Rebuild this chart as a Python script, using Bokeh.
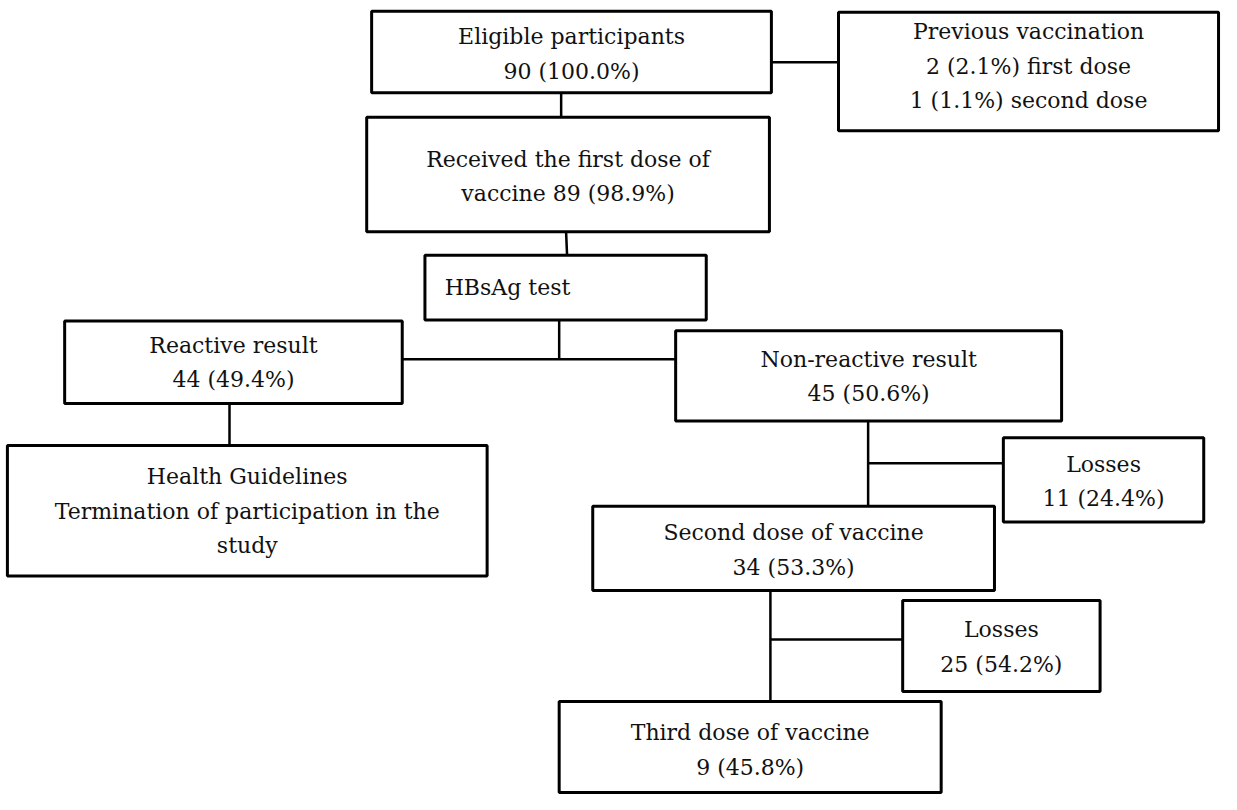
from bokeh.plotting import figure
from bokeh.models import Range1d, ColumnDataSource
from bokeh.core.properties import value
from bokeh.embed import file_html
from bokeh.resources import INLINE

# ---- data ----
titles = ["Eligible participants", "Previous vaccination", "Received the first dose of",
          "HBsAg test", "Reactive result", "Non-reactive result", "Health Guidelines",
          "Losses", "Second dose of vaccine", "Losses", "Third dose of vaccine"]
counts = [90, None, 89, None, 44, 45, None, 11, 34, 25, 9]
percents = [100.0, None, 98.9, None, 49.4, 50.6, None, 24.4, 53.3, 54.2, 45.8]
prev_counts = [2, 1]
prev_percents = [2.1, 1.1]
prev_doses = ["first dose", "second dose"]
guideline_note = ["Termination of participation in the", "study"]

# ---- text lines per box ----
def fmt(c, p):
    return f"{c} ({p:.1f}%)"

lines = []
for i, t in enumerate(titles):
    if i == 1:
        lines.append([t] + [f"{fmt(c, p)} {d}" for c, p, d in zip(prev_counts, prev_percents, prev_doses)])
    elif i == 2:
        lines.append([t, "vaccine " + fmt(counts[i], percents[i])])
    elif i == 6:
        lines.append([t] + guideline_note)
    elif counts[i] is None:
        lines.append([t])
    else:
        lines.append([t, fmt(counts[i], percents[i])])

# ---- layout (reference pixel coordinates) ----
box_left   = [376, 849, 371, 430,  65, 684,   7, 1016, 600, 914, 566]
box_right  = [781, 1234, 779, 715, 407, 1075, 493, 1219, 1007, 1114, 953]
box_top    = [ 11,  12, 119, 260, 327, 337, 454, 446, 516, 612, 715]
box_bottom = [ 94, 133, 236, 326, 411, 429, 587, 532, 602, 705, 808]
first_line_y = [37, 32, 162, 293, 352, 366, 486, 473, 543, 642, 747]
line_gap = 35
text_x = [None, None, None, 450, None, None, None, None, None, None, None]

W, H = 1221, 794
p = figure(width=W, height=H, x_range=Range1d(0, 1237), y_range=Range1d(810, 0),
           output_backend="svg", toolbar_location=None, min_border=0)
p.axis.visible = False
p.grid.visible = False
p.outline_line_color = None
p.background_fill_color = "white"
p.border_fill_color = "white"

# connectors
seg_x0 = [781, 568, 573, 566, 407, 232, 879, 879, 780, 780]
seg_y0 = [ 63,  94, 236, 326, 366, 411, 429, 472, 602, 652]
seg_x1 = [849, 568, 574, 566, 684, 232, 879, 1016, 780, 914]
seg_y1 = [ 63, 119, 260, 366, 366, 454, 516, 472, 715, 652]
p.segment(seg_x0, seg_y0, seg_x1, seg_y1, line_color="black", line_width=2.5)

p.quad(left=box_left, right=box_right, top=box_top, bottom=box_bottom,
       fill_color="white", line_color="black", line_width=3)

tx, ty, tt, ta = [], [], [], []
for i, ls in enumerate(lines):
    for j, s in enumerate(ls):
        if text_x[i] is not None:
            tx.append(text_x[i]); ta.append("left")
        else:
            tx.append((box_left[i] + box_right[i]) / 2); ta.append("center")
        ty.append(first_line_y[i] + j * line_gap)
        tt.append(s)

src = ColumnDataSource(dict(x=tx, y=ty, text=tt, align=ta))
p.text(x="x", y="y", text="text", source=src, text_align="align",
       text_baseline="middle", text_font=value("DejaVu Serif"),
       text_font_size="22px", text_color="#111111")

open("out.html", "w").write(file_html(p, INLINE))
